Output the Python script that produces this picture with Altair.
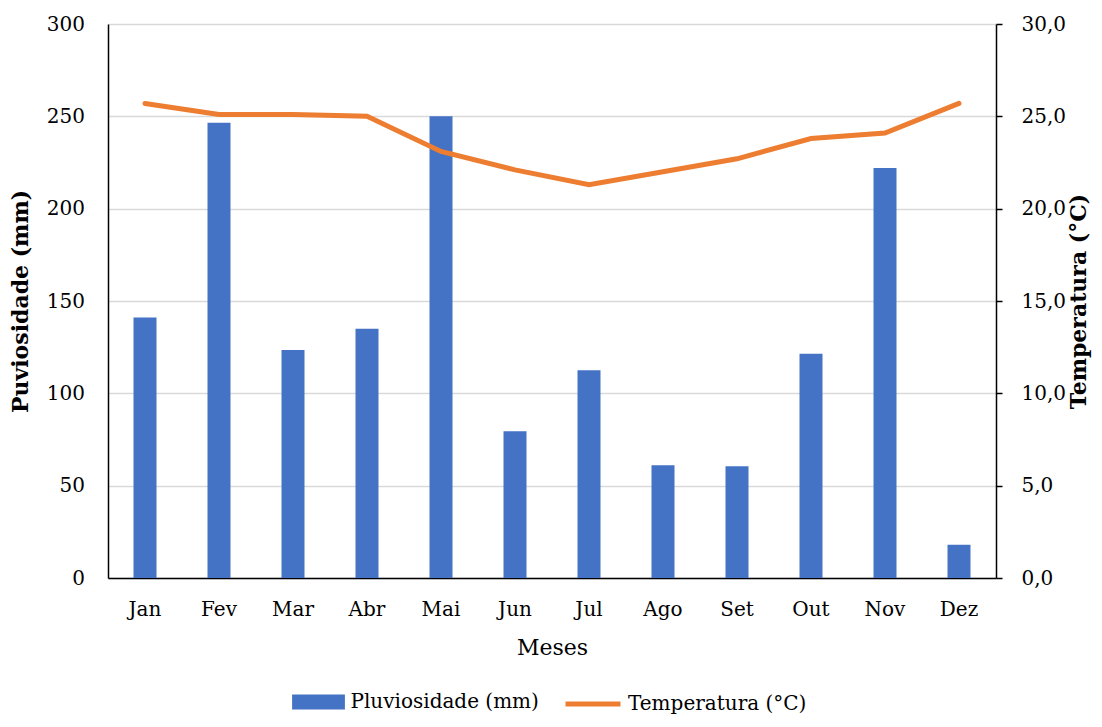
import altair as alt
import pandas as pd

meses = ["Jan", "Fev", "Mar", "Abr", "Mai", "Jun", "Jul", "Ago", "Set", "Out", "Nov", "Dez"]
pluviosidade = [141, 246.5, 123.5, 135, 250, 79.5, 112.5, 61, 60.5, 121.5, 222, 18]
temperatura = [25.7, 25.1, 25.1, 25.0, 23.1, 22.1, 21.3, 22.0, 22.7, 23.8, 24.1, 25.7]

df = pd.DataFrame({
    "Mes": meses,
    "Pluv": pluviosidade,
    "Temp": temperatura,
    "serieP": "Pluviosidade (mm)",
    "serieT": "Temperatura (°C)",
})

FONT = "DejaVu Serif"

x = alt.X("Mes:N", sort=meses, title="Meses",
          scale=alt.Scale(paddingInner=0.69, paddingOuter=0.345),
          axis=alt.Axis(labelAngle=0, ticks=False, domainColor="black", domainWidth=1.5,
                        labelPadding=21.5, titlePadding=18, titleFontWeight="normal"))

bars = alt.Chart(df).mark_bar(size=23).encode(
    x=x,
    y=alt.Y("Pluv:Q", title="Puviosidade (mm)",
            scale=alt.Scale(domain=[0, 300]),
            axis=alt.Axis(values=[0, 50, 100, 150, 200, 250, 300], ticks=False,
                          domainColor="black", domainWidth=1.5, gridColor="#d9d9d9",
                          gridWidth=1.3, labelPadding=23.5, titlePadding=14,
                          titleFontWeight="bold")),
    color=alt.Color("serieP:N", scale=alt.Scale(range=["#4472C4"]), title=None,
                    legend=alt.Legend(orient="none", legendX=198.5, legendY=666,
                                      labelOffset=20,
                                      symbolType="M-2.2,-0.62L2.2,-0.62L2.2,0.62L-2.2,0.62Z",
                                      symbolSize=576, symbolStrokeWidth=0)),
)

line = alt.Chart(df).mark_line(strokeWidth=5, strokeCap="round").encode(
    x=x,
    y=alt.Y("Temp:Q", title="Temperatura (°C)",
            scale=alt.Scale(domain=[0, 30]),
            axis=alt.Axis(orient="right", values=[0, 5, 10, 15, 20, 25, 30], grid=False,
                          tickColor="black", tickSize=6, tickWidth=1.5,
                          domainColor="black", domainWidth=1.5, labelPadding=19,
                          titleAngle=270, titleBaseline="top", titlePadding=3,
                          titleFontWeight="bold",
                          labelExpr="replace(format(datum.value, '.1f'), '.', ',')")),
    stroke=alt.Stroke("serieT:N", scale=alt.Scale(range=["#ED7D31"]), title=None,
                      legend=alt.Legend(orient="none", legendX=455, legendY=650,
                                        labelOffset=5,
                                        symbolType="stroke",
                                        symbolSize=3025, symbolStrokeWidth=5)),
)

chart = alt.layer(bars, line).resolve_scale(
    y="independent", color="independent", stroke="independent"
).properties(
    width=888, height=554,
    autosize=alt.AutoSizeParams(type="none"),
    padding={"left": 100, "top": 16, "right": 98, "bottom": 140},
).configure_view(stroke=None).configure_axis(
    labelFont=FONT, titleFont=FONT, labelFontSize=20, titleFontSize=22,
    labelColor="black", titleColor="black"
).configure_legend(
    labelFont=FONT, labelFontSize=20, labelColor="black", labelLimit=400
)

chart.save("out.html", embed_options={"renderer": "svg", "actions": False})
